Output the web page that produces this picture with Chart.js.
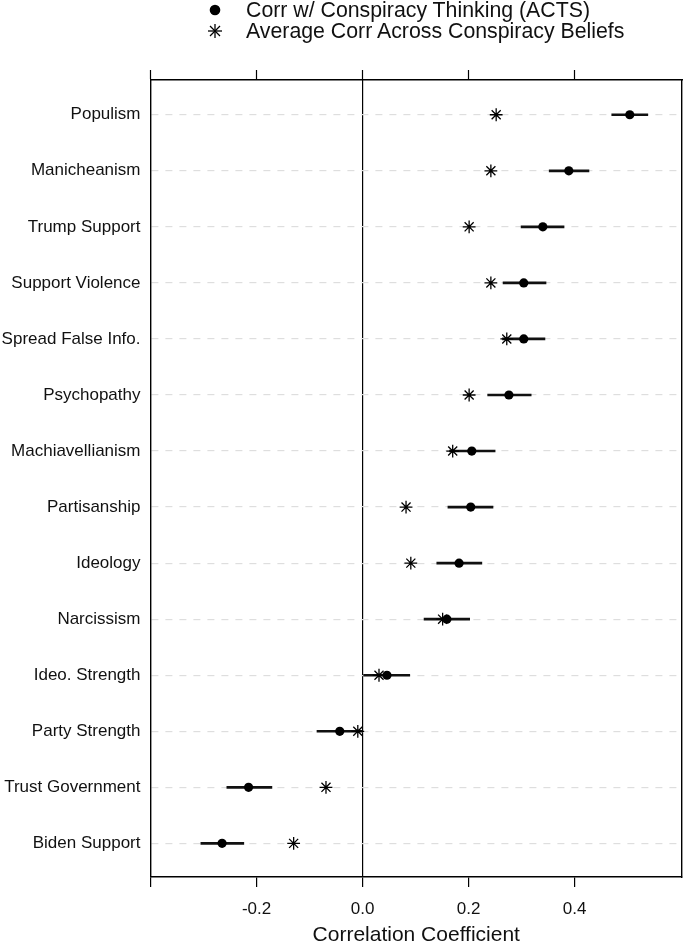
<!DOCTYPE html>
<html><head><meta charset="utf-8">
<script src="https://cdn.jsdelivr.net/npm/chart.js@4"></script>
<style>
html,body{margin:0;padding:0;background:#fff;}
#wrap{position:relative;width:685px;height:948px;}
canvas{position:absolute;left:0;top:0;}
#legend{position:absolute;left:0;top:0;width:685px;height:45px;font-family:'Liberation Sans',Arial,sans-serif;font-size:21.3px;color:#111;}
.row{position:absolute;left:205px;white-space:nowrap;height:22px;display:flex;align-items:center;}
.row svg{width:20px;height:20px;margin-right:21px;flex:none;}
</style></head>
<body><div id="wrap"><canvas id="c" width="685" height="948"></canvas>
<div id="legend">
<div class="row" style="top:-1px"><svg viewBox="0 0 20 20"><circle cx="10" cy="10" r="5.3" fill="#000"/></svg><span>Corr w/ Conspiracy Thinking (ACTS)</span></div>
<div class="row" style="top:20px"><svg viewBox="0 0 20 20"><g stroke="#000" stroke-width="1.3"><line x1="3" y1="10" x2="17" y2="10"/><line x1="10" y1="3" x2="10" y2="17"/><line x1="5" y1="5" x2="15" y2="15"/><line x1="5" y1="15" x2="15" y2="5"/></g></svg><span>Average Corr Across Conspiracy Beliefs</span></div>
</div></div>
<script>
const categories = ['Populism','Manicheanism','Trump Support','Support Violence','Spread False Info.','Psychopathy','Machiavellianism','Partisanship','Ideology','Narcissism','Ideo. Strength','Party Strength','Trust Government','Biden Support'];
const actsCorr = [0.504,0.389,0.340,0.304,0.304,0.276,0.206,0.204,0.182,0.159,0.046,-0.043,-0.215,-0.265];
const ciLow    = [0.470,0.352,0.299,0.265,0.264,0.236,0.164,0.161,0.140,0.116,0.002,-0.086,-0.256,-0.305];
const ciHigh   = [0.538,0.427,0.380,0.346,0.344,0.318,0.250,0.246,0.225,0.202,0.089,0.000,-0.171,-0.224];
const avgCorr  = [0.252,0.242,0.201,0.242,0.272,0.201,0.170,0.082,0.091,0.151,0.031,-0.009,-0.069,-0.130];
const xTicks = [-0.4,-0.2,0.0,0.2,0.4];
const xTickLabels = ['','-0.2','0.0','0.2','0.4'];

const FONT = "'Liberation Sans', Arial, sans-serif";
const idx = categories.map((_, i) => i);
const yMin = -0.62, yMax = 13.6, xMin = -0.4, xMax = 0.6025;

const setYTicks = s => { s.ticks = idx.map(v => ({value: v})); };
const setXTicks = s => { s.ticks = xTicks.map(v => ({value: v})); };
const noPad = s => { s.paddingLeft = 0; s.paddingRight = 0; s.paddingTop = 0; s.paddingBottom = 0; };

new Chart(document.getElementById('c'), {
  type: 'bar',
  data: {
    datasets: [
      {
        type: 'bar', indexAxis: 'y', label: 'CI',
        data: idx.map(i => ({x: [ciLow[i], ciHigh[i]], y: i})),
        backgroundColor: '#111', borderWidth: 0, barThickness: 2,
        xAxisID: 'x', yAxisID: 'y', order: 3
      },
      {
        type: 'scatter', label: 'Average Corr Across Conspiracy Beliefs',
        data: idx.map(i => ({x: avgCorr[i], y: i})),
        pointStyle: 'star', pointRadius: 6.4, borderColor: '#000', borderWidth: 1.3,
        backgroundColor: '#000', xAxisID: 'x', yAxisID: 'y', order: 2
      },
      {
        type: 'scatter', label: 'Corr w/ Conspiracy Thinking (ACTS)',
        data: idx.map(i => ({x: actsCorr[i], y: i})),
        pointStyle: 'circle', pointRadius: 4.6, borderWidth: 0,
        backgroundColor: '#000', xAxisID: 'x', yAxisID: 'y', order: 1
      }
    ]
  },
  options: {
    responsive: false, animation: false,
    layout: {padding: 0, autoPadding: false},
    plugins: {legend: {display: false}, tooltip: {enabled: false}},
    scales: {
      x: {
        type: 'linear', position: 'bottom', min: xMin, max: xMax, offset: false,
        afterBuildTicks: setXTicks,
        afterFit: s => { s.height = 71; noPad(s); },
        grid: {
          offset: false, drawOnChartArea: true, drawTicks: true, tickLength: 10,
          color: c => (c.tick && c.tick.value === 0) ? '#000' : 'rgba(0,0,0,0)',
          tickColor: '#000', lineWidth: 1.2, tickWidth: 1.2
        },
        border: {display: true, color: '#000', width: 1.4},
        ticks: {
          callback: (v, i) => xTickLabels[i], color: '#111', padding: 12,
          font: {family: FONT, size: 17}, maxRotation: 0, autoSkip: false
        },
        title: {display: true, text: 'Correlation Coefficient', color: '#111',
          font: {family: FONT, size: 21}, padding: {top: 12, bottom: 0}}
      },
      x2: {
        type: 'linear', position: 'top', min: xMin, max: xMax, offset: false,
        afterBuildTicks: setXTicks,
        afterFit: s => { s.height = 80; noPad(s); },
        grid: {offset: false, drawOnChartArea: false, drawTicks: true, tickLength: 10, tickColor: '#000', tickWidth: 1.2},
        border: {display: true, color: '#000', width: 1.4},
        ticks: {callback: () => '', padding: 0}
      },
      y: {
        type: 'linear', position: 'left', min: yMin, max: yMax, reverse: true, offset: false,
        afterBuildTicks: setYTicks,
        afterFit: s => { s.width = 150.5; noPad(s); },
        grid: {offset: false, drawOnChartArea: true, drawTicks: false, color: '#dedede', lineWidth: 1.2},
        border: {display: true, color: '#000', width: 1.4, dash: [7, 7]},
        ticks: {
          callback: v => categories[v] !== undefined ? categories[v] : '',
          color: '#111', padding: 10, font: {family: FONT, size: 17}, autoSkip: false
        }
      },
      y2: {
        type: 'linear', position: 'right', min: yMin, max: yMax, reverse: true, offset: false,
        afterBuildTicks: setYTicks,
        afterFit: s => { s.width = 3; noPad(s); },
        grid: {offset: false, drawOnChartArea: false, drawTicks: false},
        border: {display: true, color: '#000', width: 1.4},
        ticks: {display: false}
      }
    }
  }
});
</script>
</body></html>
